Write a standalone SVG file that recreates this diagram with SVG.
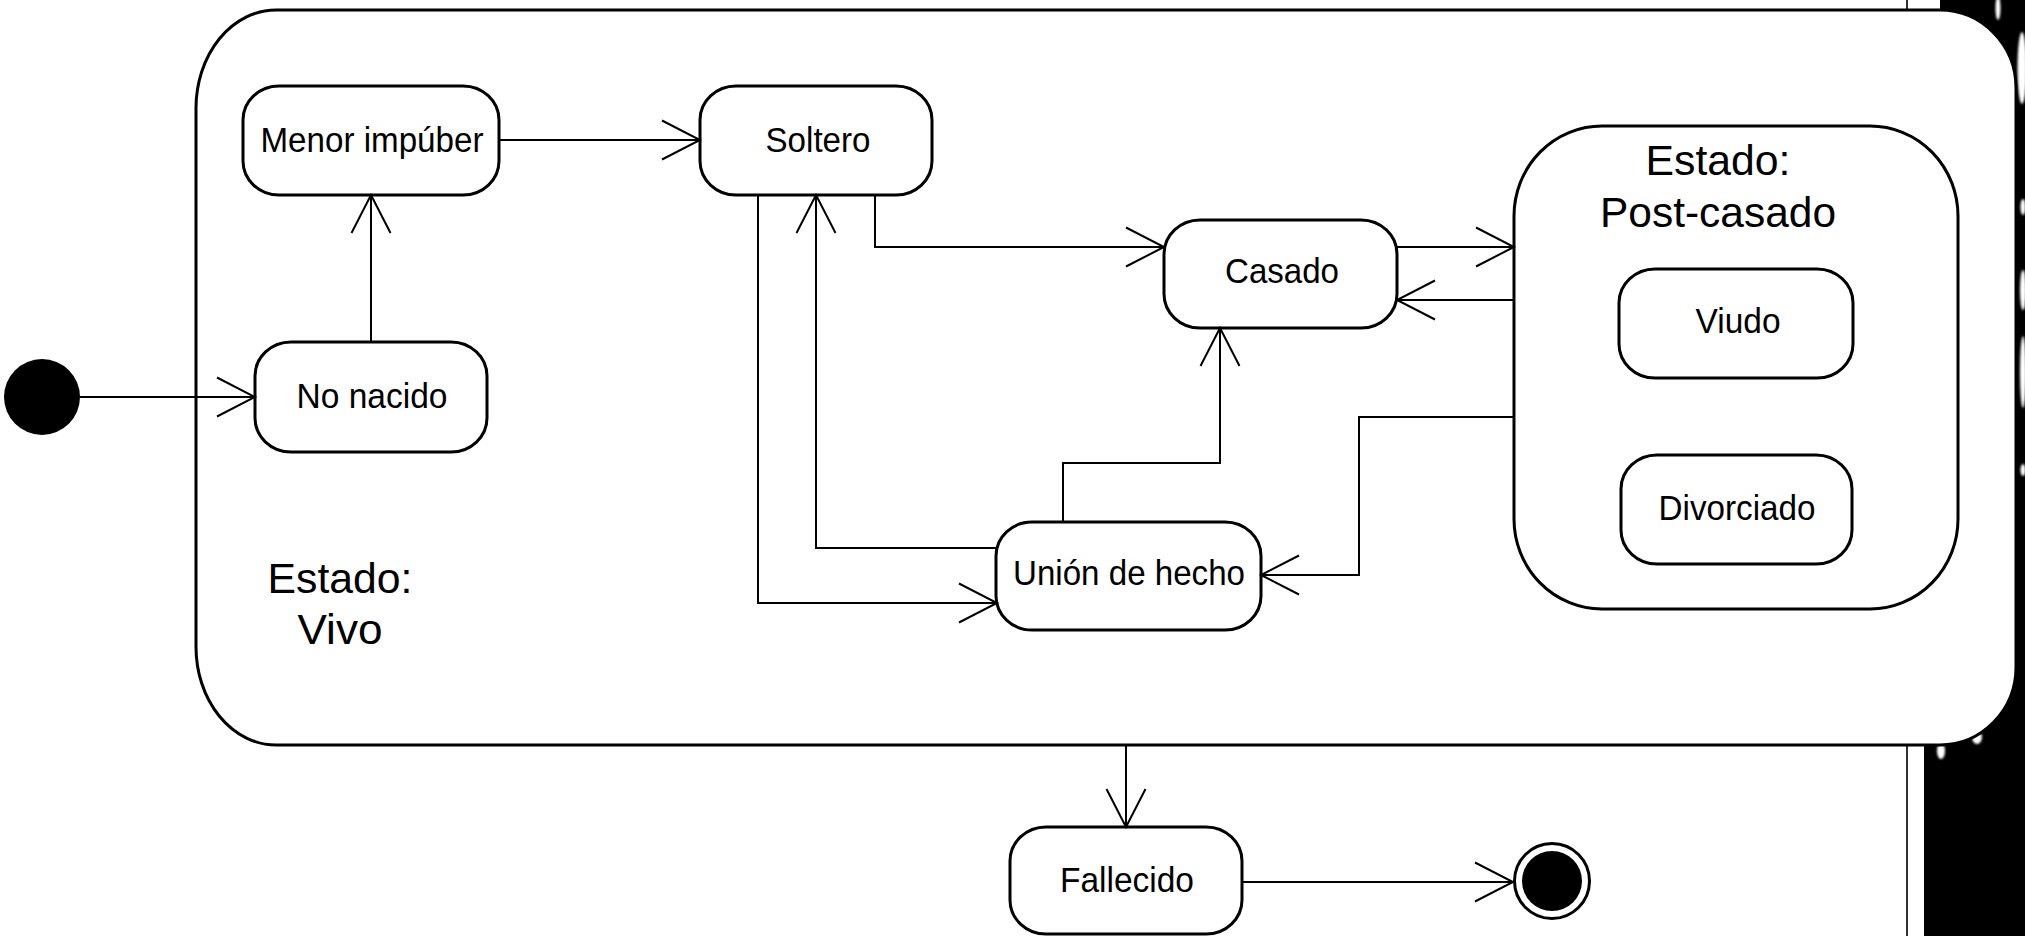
<svg xmlns="http://www.w3.org/2000/svg" width="2025" height="936" viewBox="0 0 2025 936">
  <style>
    .box { fill: #fff; stroke: #000; stroke-width: 3; }
    .edge { fill: none; stroke: #000; stroke-width: 2; }
    .lbl { font-family: "Liberation Sans", Arial, Helvetica, sans-serif; font-size: 35px; fill: #000; text-anchor: middle; }
    .big { font-family: "Liberation Sans", Arial, Helvetica, sans-serif; font-size: 43px; fill: #000; text-anchor: middle; }
  </style>
  <defs>
    <marker id="open" markerUnits="userSpaceOnUse" markerWidth="44" markerHeight="44" viewBox="-40 -22 44 44" refX="0" refY="0" orient="auto" overflow="visible">
      <path d="M-38,-19.5 L0,0 L-38,19.5" fill="none" stroke="#000" stroke-width="2"/>
    </marker>
    <filter id="soft" x="-50%" y="-50%" width="200%" height="200%">
      <feGaussianBlur stdDeviation="1.2"/>
    </filter>
  </defs>

  <rect width="2025" height="936" fill="#fff"/>

  <!-- dark page margin on the right -->
  <g id="margin">
    <path d="M1940,0 H2025 V936 H1924 V745 H1940 A76,78 0 0 0 2016,667 V88 A76,78 0 0 0 1940,10 Z" fill="#000"/>
    <g fill="#fff" filter="url(#soft)">
      <ellipse cx="1998" cy="8" rx="2.5" ry="12"/>
      <ellipse cx="2022" cy="68" rx="4.5" ry="36"/>
      <ellipse cx="2023" cy="207" rx="2.5" ry="8"/>
      <ellipse cx="2023" cy="290" rx="3" ry="20"/>
      <ellipse cx="2023" cy="372" rx="3" ry="36"/>
      <ellipse cx="2023" cy="470" rx="2.5" ry="6"/>
      <ellipse cx="1977" cy="737" rx="5" ry="7"/>
      <ellipse cx="1941" cy="751" rx="4" ry="8"/>
    </g>
    <path d="M1907,0 V10 M1907,745 V936" stroke="#000" stroke-width="1.6" fill="none"/>
  </g>

  <!-- composite state: Vivo -->
  <g id="vivo">
    <path class="box" d="M276,10 H1940 A76,78 0 0 1 2016,88 V667 A76,78 0 0 1 1940,745 H276 A80,98 0 0 1 196,647 V108 A80,98 0 0 1 276,10 Z"/>
    <text class="big" x="340" y="593" textLength="145" lengthAdjust="spacingAndGlyphs">Estado:</text>
    <text class="big" x="340" y="644" textLength="85" lengthAdjust="spacingAndGlyphs">Vivo</text>
  </g>

  <!-- composite state: Post-casado -->
  <g id="postcasado">
    <rect class="box" x="1514" y="126" width="444" height="483" rx="88" ry="90"/>
    <text class="big" x="1718" y="175" textLength="145" lengthAdjust="spacingAndGlyphs">Estado:</text>
    <text class="big" x="1718" y="227" textLength="236" lengthAdjust="spacingAndGlyphs">Post-casado</text>
  </g>

  <g id="inicio">
    <circle cx="42" cy="397" r="38" fill="#000"/>
  </g>

  <g id="no-nacido">
    <rect class="box" x="255" y="342" width="232" height="110" rx="36" ry="34"/>
    <text class="lbl" x="372" y="408" textLength="151" lengthAdjust="spacingAndGlyphs">No nacido</text>
  </g>

  <g id="menor-impuber">
    <rect class="box" x="243" y="86" width="256" height="109" rx="36" ry="34"/>
    <text class="lbl" x="372" y="152" textLength="223" lengthAdjust="spacingAndGlyphs">Menor impúber</text>
  </g>

  <g id="soltero">
    <rect class="box" x="700" y="86" width="232" height="109" rx="36" ry="34"/>
    <text class="lbl" x="818" y="152" textLength="105" lengthAdjust="spacingAndGlyphs">Soltero</text>
  </g>

  <g id="casado">
    <rect class="box" x="1164" y="220" width="233" height="108" rx="36" ry="34"/>
    <text class="lbl" x="1282" y="283" textLength="114" lengthAdjust="spacingAndGlyphs">Casado</text>
  </g>

  <g id="union-de-hecho">
    <rect class="box" x="996" y="522" width="265" height="108" rx="36" ry="34"/>
    <text class="lbl" x="1129" y="585" textLength="232" lengthAdjust="spacingAndGlyphs">Unión de hecho</text>
  </g>

  <g id="viudo">
    <rect class="box" x="1619" y="269" width="234" height="109" rx="36" ry="34"/>
    <text class="lbl" x="1738" y="333" textLength="85" lengthAdjust="spacingAndGlyphs">Viudo</text>
  </g>

  <g id="divorciado">
    <rect class="box" x="1621" y="455" width="231" height="109" rx="36" ry="34"/>
    <text class="lbl" x="1737" y="520" textLength="157" lengthAdjust="spacingAndGlyphs">Divorciado</text>
  </g>

  <g id="fallecido">
    <rect class="box" x="1010" y="827" width="232" height="107" rx="36" ry="34"/>
    <text class="lbl" x="1127" y="892" textLength="134" lengthAdjust="spacingAndGlyphs">Fallecido</text>
  </g>

  <g id="fin">
    <circle cx="1552" cy="881" r="37.5" fill="#fff" stroke="#000" stroke-width="3"/>
    <circle cx="1552" cy="881" r="30" fill="#000"/>
  </g>

  <!-- transitions -->
  <g id="transitions" class="edge" marker-end="url(#open)">
    <path d="M80,397 H255"/>
    <path d="M371,342 V195"/>
    <path d="M499,140 H700"/>
    <path d="M875,195 V247 H1164"/>
    <path d="M758,195 V603 H997"/>
    <path d="M996,548 H816 V195"/>
    <path d="M1063,522 V463 H1220 V328"/>
    <path d="M1397,247 H1514"/>
    <path d="M1514,300 H1397"/>
    <path d="M1514,417 H1359 V575 H1261"/>
    <path d="M1126,745 V827"/>
    <path d="M1242,882 H1513"/>
  </g>
</svg>
